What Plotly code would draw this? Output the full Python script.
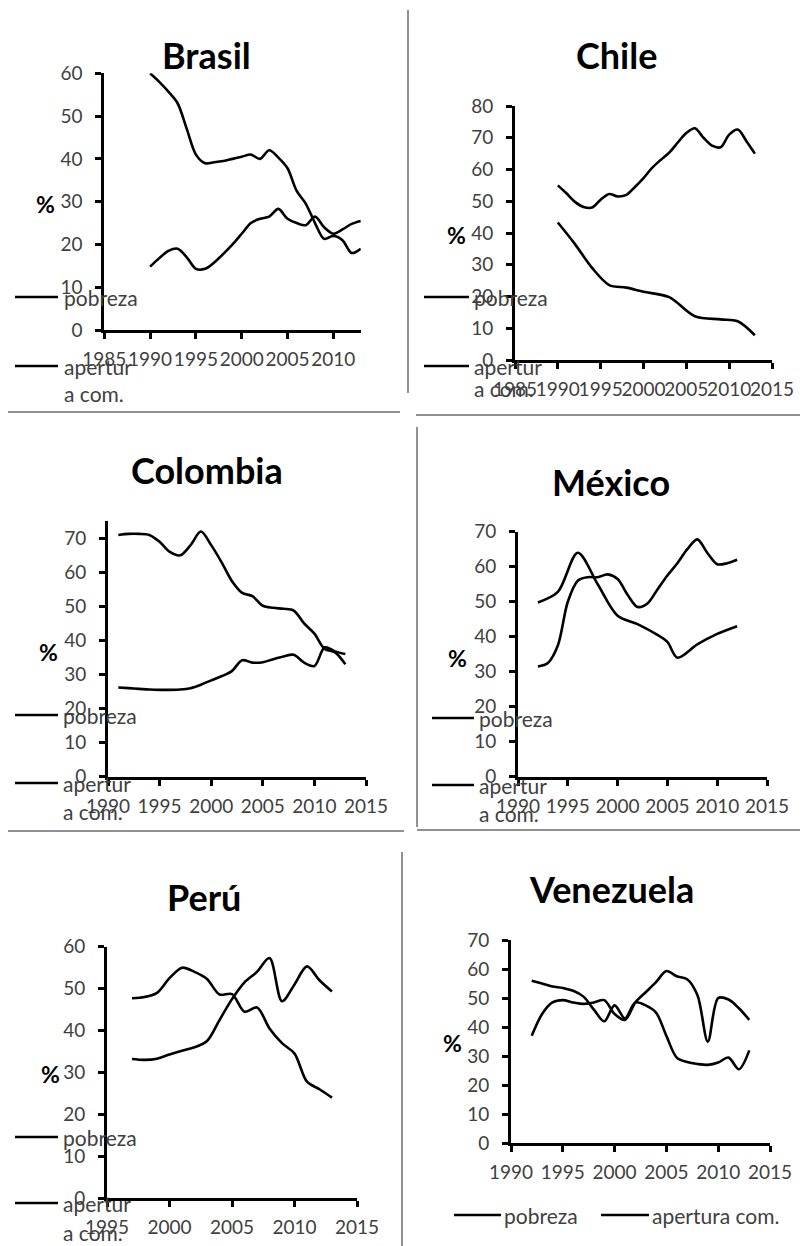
import plotly.graph_objects as go

# the page body has an 8px margin, so the figure is drawn 8px in from the window's corner
OFF = 8
W, H = 800, 1238
FONT = "Lato"
TICKC = "#404040"

# ---------------- data ----------------
brasil_years = list(range(1990, 2014))
brasil_pobreza = [60, 58, 55.7, 53, 47, 41, 39, 39.2, 39.5, 40, 40.5, 41, 40, 42, 40.3, 37.8,
                  32.5, 29.5, 25, 21.3, 22, 21, 18, 19]
brasil_apertura = [14.8, 16.8, 18.5, 19, 17, 14.3, 14.3, 15.8, 17.8, 20, 22.5, 25, 26, 26.5, 28.3, 26,
                   25, 24.5, 26.5, 24, 22.5, 23.5, 24.8, 25.5]

chile_years = list(range(1990, 2014))
chile_apertura = [55, 52.5, 49.8, 48.2, 48, 50.5, 52.3, 51.5, 52, 54.5, 57.3, 60.5, 63, 65.3, 68.5, 71.5,
                  73, 70, 67.5, 67, 71, 72.6, 69, 65]
chile_pob_years = [1990, 1992, 1994, 1996, 1998, 2000, 2003, 2006, 2009, 2011, 2013]
chile_pobreza = [43.3, 36.5, 29, 23.6, 22.8, 21.5, 19.8, 13.8, 12.8, 12.2, 7.8]

colombia_years = list(range(1991, 2014))
colombia_pobreza = [71, 71.3, 71.3, 71, 69, 66, 65, 68, 72, 68, 63, 57.5, 54, 53, 50.2, 49.6, 49.3,
                    48.8, 45, 42, 37.5, 36.5, 33]
colombia_apertura = [26.2, 26, 25.8, 25.6, 25.5, 25.5, 25.6, 26, 27, 28.3, 29.5, 31, 34.2, 33.5, 33.6,
                     34.5, 35.3, 35.8, 33.5, 32.5, 38, 36.8, 36]

mexico_pob_years = [1992, 1994, 1996, 1998, 2000, 2002, 2004, 2005, 2006, 2008, 2010, 2012]
mexico_pobreza = [49.8, 52.8, 64, 55, 46, 43.6, 40.5, 38.5, 34, 37.8, 40.8, 43]
mexico_years = list(range(1992, 2013))
mexico_apertura = [31.5, 32.5, 37.5, 50, 56, 57, 57, 57.8, 56.5, 52, 48.5, 49.5, 53.5, 57.5, 61, 65,
                   67.8, 64, 60.7, 61, 62]

peru_years = list(range(1997, 2014))
peru_pobreza = [47.7, 48, 49, 52.5, 55, 54, 52.3, 48.6, 48.7, 44.5, 45.5, 40.5, 37, 34.5, 27.8, 26, 24]
peru_apertura = [33.2, 33, 33.3, 34.3, 35.2, 36, 37.5, 42.5, 47.5, 51.5, 54, 57.3, 47, 51, 55.3, 52, 49.3]

venezuela_years = list(range(1992, 2014))
venezuela_pobreza = [37, 44.5, 48.5, 49.3, 48.5, 48, 48.5, 49.3, 44.5, 42.5, 48.5, 52, 55.5, 59.3,
                     57.5, 56.5, 51, 35, 50, 49.5, 46.5, 42.5]
venezuela_apertura = [56, 55, 54, 53.5, 52.5, 50.5, 46, 42, 47.5, 43, 48.5, 47.5, 45, 37, 29.5, 28,
                      27.3, 27, 27.8, 29.5, 25.5, 32]

titles = ["Brasil", "Chile", "Colombia", "México", "Perú", "Venezuela"]
series_names = ["pobreza", "apertura com."]

# ---------------- layout specs (window pixels) ----------------
specs = [
    dict(xpx=(104.3, 360.8), ypx=(330, 73.3), xr=[1985, 2013], yr=[0, 60], x0=1985,
         title=(206, 55), pct=(45, 204),
         leg=dict(x1=15, x2=58, y1=297, y2=366, tx=62, ty2=393),
         series=[(brasil_years, brasil_pobreza), (brasil_years, brasil_apertura)]),
    dict(xpx=(515, 772), ypx=(360, 106), xr=[1985, 2015], yr=[0, 80], x0=1985,
         title=(616, 55), pct=(456, 235),
         leg=dict(x1=424, x2=469, y1=297, y2=366, tx=472, ty2=389),
         series=[(chile_pob_years, chile_pobreza), (chile_years, chile_apertura)]),
    dict(xpx=(108, 366), ypx=(776.7, 521.3), xr=[1990, 2015], yr=[0, 75], x0=1990,
         title=(207, 470), pct=(48, 652),
         leg=dict(x1=15, x2=58, y1=715, y2=783, tx=61, ty2=811),
         series=[(colombia_years, colombia_pobreza), (colombia_years, colombia_apertura)]),
    dict(xpx=(518, 767), ypx=(776.7, 531.7), xr=[1990, 2015], yr=[0, 70], x0=1990,
         title=(611, 482), pct=(457, 658),
         leg=dict(x1=432, x2=474, y1=718, y2=785, tx=477, ty2=813),
         series=[(mexico_pob_years, mexico_pobreza), (mexico_years, mexico_apertura)]),
    dict(xpx=(107, 357), ypx=(1198.3, 946.7), xr=[1995, 2015], yr=[0, 60], x0=1995,
         title=(204, 897), pct=(50, 1074),
         leg=dict(x1=15, x2=58, y1=1137, y2=1203, tx=61, ty2=1232),
         series=[(peru_years, peru_pobreza), (peru_years, peru_apertura)]),
    dict(xpx=(511, 770), ypx=(1143.3, 940), xr=[1990, 2015], yr=[0, 70], x0=1990,
         title=(611, 889), pct=(452, 1043),
         leg=None,
         series=[(venezuela_years, venezuela_pobreza), (venezuela_years, venezuela_apertura)]),
]


def fx(p):
    return (p - OFF) / W


def fy(p):
    return 1 - (p - OFF) / H


fig = go.Figure()
annotations = []
shapes = []
layout = {}

for i, (sp, title) in enumerate(zip(specs, titles), start=1):
    xa = "x" if i == 1 else f"x{i}"
    ya = "y" if i == 1 else f"y{i}"
    for (xs, ys), nm in zip(sp["series"], series_names):
        fig.add_trace(go.Scatter(x=xs, y=ys, mode="lines", name=nm, showlegend=False,
                                 line=dict(color="black", width=2.6, shape="spline", smoothing=0.9),
                                 xaxis=xa, yaxis=ya, cliponaxis=False))
    common = dict(showgrid=False, zeroline=False, showline=True, linecolor="black", linewidth=3,
                  ticks="outside", ticklen=6, tickwidth=2.5, tickcolor="black", automargin=False,
                  tickangle=0, tickfont=dict(family=FONT, size=19, color=TICKC), fixedrange=True)
    layout["xaxis" if i == 1 else f"xaxis{i}"] = dict(
        domain=[fx(sp["xpx"][0]), fx(sp["xpx"][1])], range=sp["xr"], anchor=ya,
        tick0=sp["x0"], dtick=5, ticklabelstandoff=4, **common)
    layout["yaxis" if i == 1 else f"yaxis{i}"] = dict(
        domain=[fy(sp["ypx"][0]), fy(sp["ypx"][1])], range=sp["yr"], anchor=xa,
        tick0=0, dtick=10, ticklabelstandoff=9, **common)

    annotations.append(dict(text=f"<b>{title}</b>", x=fx(sp["title"][0]), y=fy(sp["title"][1]),
                            xref="paper", yref="paper", showarrow=False, xanchor="center",
                            yanchor="middle", font=dict(family=FONT, size=36, color="black")))
    annotations.append(dict(text="<b>%</b>", x=fx(sp["pct"][0]), y=fy(sp["pct"][1]),
                            xref="paper", yref="paper", showarrow=False, xanchor="center",
                            yanchor="middle", font=dict(family=FONT, size=23, color="black")))
    lg = sp["leg"]
    if lg:
        for yy in (lg["y1"], lg["y2"]):
            shapes.append(dict(type="line", xref="paper", yref="paper", x0=fx(lg["x1"]), x1=fx(lg["x2"]),
                               y0=fy(yy), y1=fy(yy), line=dict(color="black", width=2.6)))
        for txt, yy in (("pobreza", lg["y1"]), ("apertur", lg["y2"]), ("a com.", lg["ty2"])):
            annotations.append(dict(text=txt, x=fx(lg["tx"]), y=fy(yy), xref="paper", yref="paper",
                                    showarrow=False, xanchor="left", yanchor="middle",
                                    font=dict(family=FONT, size=21, color=TICKC)))

# Venezuela horizontal legend
for (a, b), (txt, tx) in zip([(454, 501), (601, 649)], [("pobreza", 502), ("apertura com.", 650)]):
    shapes.append(dict(type="line", xref="paper", yref="paper", x0=fx(a), x1=fx(b),
                       y0=fy(1215), y1=fy(1215), line=dict(color="black", width=2.6)))
    annotations.append(dict(text=txt, x=fx(tx), y=fy(1215), xref="paper", yref="paper",
                            showarrow=False, xanchor="left", yanchor="middle",
                            font=dict(family=FONT, size=21, color=TICKC)))

# panel border lines
borders = [
    (5, 412, 400, 412), (408, 10, 408, 393), (416, 415, 808, 415),
    (5, 831, 404, 831), (417, 427, 417, 827), (417, 830, 808, 830),
    (402, 852, 402, 1246),
]
for x0, y0, x1, y1 in borders:
    shapes.append(dict(type="line", xref="paper", yref="paper", x0=fx(x0), x1=fx(x1),
                       y0=fy(y0), y1=fy(y1), line=dict(color="#222222", width=1)))

fig.update_layout(width=W, height=H, margin=dict(l=0, r=0, t=0, b=0, autoexpand=False),
                  paper_bgcolor="white", plot_bgcolor="white", showlegend=False,
                  annotations=annotations, shapes=shapes, **layout)

fig.write_html("out.html")
